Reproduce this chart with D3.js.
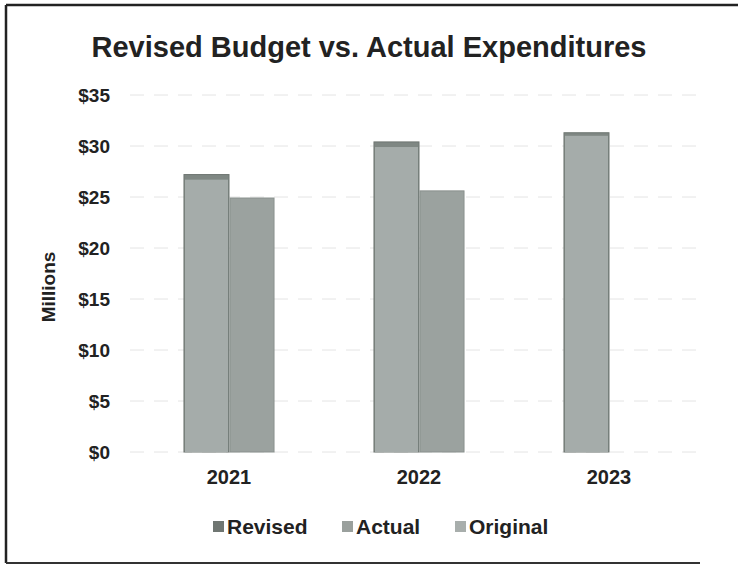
<!DOCTYPE html>
<html>
<head>
<meta charset="utf-8">
<script src="https://cdn.jsdelivr.net/npm/d3@7"></script>
<style>
  body { margin: 0; background: #fff; }
  text { font-family: "Liberation Sans", Arial, sans-serif; font-weight: bold; fill: #222; }
</style>
</head>
<body>
<div id="chart"></div>
<script>
// Datos (millones)
var years = ["2021", "2022", "2023"];
var revised = [27.2, 30.4, 31.3];
var original = [26.7, 29.9, 31.0];
var actual = [24.9, 25.6, null];
var yTicks = [0, 5, 10, 15, 20, 25, 30, 35];
var legendLabels = ["Revised", "Actual", "Original"];

var width = 738;
var height = 565;

var svg = d3.select("#chart")
  .append("svg")
  .attr("width", width)
  .attr("height", height);

// Marco
svg.append("line").attr("x1", 6).attr("x2", width).attr("y1", 5).attr("y2", 5)
  .attr("stroke", "#222").attr("stroke-width", 2.5);
svg.append("line").attr("x1", 6).attr("x2", 6).attr("y1", 5).attr("y2", 563)
  .attr("stroke", "#222").attr("stroke-width", 2.5);
svg.append("line").attr("x1", 6).attr("x2", 700).attr("y1", 563).attr("y2", 563)
  .attr("stroke", "#333").attr("stroke-width", 2);

// Escalas
var x = d3.scaleBand()
  .domain(years)
  .range([134, 704])
  .paddingInner(0.526)
  .paddingOuter(0.263);

var xSub = d3.scaleBand()
  .domain(["budget", "actual"])
  .range([0, x.bandwidth()]);

var y = d3.scaleLinear()
  .domain([0, 35])
  .range([452, 95]);

// Título
svg.append("text")
  .attr("x", 369).attr("y", 57)
  .attr("text-anchor", "middle")
  .style("font-size", "29px")
  .text("Revised Budget vs. Actual Expenditures");

// Líneas de cuadrícula
svg.append("g")
  .selectAll("line")
  .data(yTicks)
  .enter()
  .append("line")
  .attr("x1", 130).attr("x2", 702)
  .attr("y1", function(d) { return y(d); })
  .attr("y2", function(d) { return y(d); })
  .attr("stroke", "#e4e4e4")
  .attr("stroke-width", 1)
  .attr("stroke-dasharray", "14,10");

// Eje Y
var yAxis = svg.append("g")
  .attr("transform", "translate(110,0)")
  .call(d3.axisLeft(y).tickValues(yTicks).tickSize(0).tickPadding(0)
    .tickFormat(function(d) { return "$" + d; }));
yAxis.select(".domain").remove();
yAxis.selectAll("text").style("font-size", "19px").style("font-family", "'Liberation Sans', Arial, sans-serif").attr("fill", "#222");

svg.append("text")
  .attr("transform", "translate(55,287) rotate(-90)")
  .attr("text-anchor", "middle")
  .style("font-size", "19px")
  .text("Millions");

// Eje X
var xAxis = svg.append("g")
  .attr("transform", "translate(0,464)")
  .call(d3.axisBottom(x).tickSize(0).tickPadding(0));
xAxis.select(".domain").remove();
xAxis.selectAll("text").style("font-size", "20px").style("font-family", "'Liberation Sans', Arial, sans-serif").attr("fill", "#222").attr("dy", "1em");

// Barras
var bars = svg.append("g");

// Revised (detrás)
bars.selectAll(".revised")
  .data(years)
  .enter()
  .append("rect")
  .attr("class", "revised")
  .attr("x", function(d) { return x(d) + xSub("budget"); })
  .attr("width", xSub.bandwidth())
  .attr("y", function(d, i) { return y(revised[i]); })
  .attr("height", function(d, i) { return y(0) - y(revised[i]); })
  .attr("fill", "#7f8783")
  .attr("stroke", "#6f7672")
  .attr("stroke-width", 1);

// Original (delante)
bars.selectAll(".original")
  .data(years)
  .enter()
  .append("rect")
  .attr("class", "original")
  .attr("x", function(d) { return x(d) + xSub("budget") + 1; })
  .attr("width", xSub.bandwidth() - 2)
  .attr("y", function(d, i) { return y(original[i]); })
  .attr("height", function(d, i) { return y(0) - y(original[i]); })
  .attr("fill", "#a5acaa");

// Actual
bars.selectAll(".actual")
  .data(years.filter(function(d, i) { return actual[i] != null; }))
  .enter()
  .append("rect")
  .attr("class", "actual")
  .attr("x", function(d) { return x(d) + xSub("actual") + 1; })
  .attr("width", xSub.bandwidth() - 1)
  .attr("y", function(d) { return y(actual[years.indexOf(d)]); })
  .attr("height", function(d) { return y(0) - y(actual[years.indexOf(d)]); })
  .attr("fill", "#9ba29f")
  .attr("stroke", "#8a918e")
  .attr("stroke-width", 1);

// Leyenda
var legendColors = ["#6f7672", "#9aa09d", "#a8aeac"];
var legendX = [213, 342, 455];
var legend = svg.append("g");
legend.selectAll("rect")
  .data(legendLabels)
  .enter()
  .append("rect")
  .attr("x", function(d, i) { return legendX[i]; })
  .attr("y", 521)
  .attr("width", 11).attr("height", 11)
  .attr("fill", function(d, i) { return legendColors[i]; });
legend.selectAll("text")
  .data(legendLabels)
  .enter()
  .append("text")
  .attr("x", function(d, i) { return legendX[i] + 14; })
  .attr("y", 534)
  .style("font-size", "21px")
  .text(function(d) { return d; });
</script>
</body>
</html>
